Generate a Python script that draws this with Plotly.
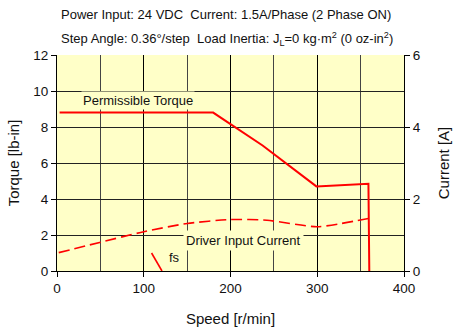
import plotly.graph_objects as go

# Data
torque_speed = [3, 180, 237, 299, 359, 360]
torque_vals = [8.8, 8.8, 6.97, 4.7, 4.85, 0]

current_speed = [2, 100, 150, 200, 242, 300, 359]
current_vals = [0.51, 1.09, 1.32, 1.43, 1.41, 1.23, 1.46]

fs_speed = [109, 121]
fs_vals = [1.0, 0]

x_ticks = [0, 100, 200, 300, 400]
y_ticks = [0, 2, 4, 6, 8, 10, 12]
y2_ticks = [0, 2, 4, 6]

FONT = "Liberation Sans, Arial, sans-serif"
BG = "#FFFFC8"
RED = "#FF0000"
TICKFONT = dict(size=13.5, color="#111")

fig = go.Figure()
fig.add_trace(go.Scatter(x=torque_speed, y=torque_vals, mode="lines",
                         line=dict(color=RED, width=2), showlegend=False))
fig.add_trace(go.Scatter(x=current_speed, y=current_vals, mode="lines", yaxis="y2",
                         line=dict(color=RED, width=1.6, dash="11px,5px", shape="spline", smoothing=0.6),
                         showlegend=False))
fig.add_trace(go.Scatter(x=fs_speed, y=fs_vals, mode="lines",
                         line=dict(color=RED, width=1.6), showlegend=False))

fig.update_layout(
    width=456, height=332,
    margin=dict(l=57, r=52, t=55, b=61, autoexpand=False),
    paper_bgcolor="white", plot_bgcolor=BG,
    font=dict(family=FONT, size=13, color="#111"),
    xaxis=dict(range=[0, 400], tickvals=x_ticks, showgrid=True, gridcolor="#000", gridwidth=1,
               minor=dict(dtick=50, showgrid=True, gridcolor="#444", gridwidth=1),
               ticks="outside", ticklen=5, tickcolor="#000", showline=True, linecolor="#000",
               zeroline=False, automargin=False, tickfont=TICKFONT,
               title=dict(text="Speed [r/min]", font=dict(size=15), standoff=18)),
    yaxis=dict(range=[0, 12], tickvals=y_ticks, showgrid=True, gridcolor="#222", gridwidth=1,
               ticks="outside", ticklen=5, tickcolor="#000", showline=True, linecolor="#000",
               zeroline=False, automargin=False, tickfont=TICKFONT,
               title=dict(text="Torque [lb-in]", font=dict(size=15), standoff=10)),
    yaxis2=dict(range=[0, 6], tickvals=y2_ticks, overlaying="y", side="right", showgrid=False,
                ticks="outside", ticklen=5, tickcolor="#000", showline=True, linecolor="#000",
                zeroline=False, automargin=False, tickfont=TICKFONT,
                title=dict(text="Current [A]", font=dict(size=15), standoff=18)),
    annotations=[
        dict(text="Power Input: 24 VDC  Current: 1.5A/Phase (2 Phase ON)",
             xref="paper", yref="paper", x=0.005, y=1.0, xanchor="left", yanchor="bottom",
             yshift=31, showarrow=False, font=dict(size=13)),
        dict(text="Step Angle: 0.36°/step  Load Inertia: J<sub>L</sub>=0 kg·m<sup>2</sup> (0 oz-in<sup>2</sup>)",
             xref="paper", yref="paper", x=0.005, y=1.0, xanchor="left", yanchor="bottom",
             yshift=5, showarrow=False, font=dict(size=13)),
        dict(text="Permissible Torque", x=93, y=9.45, xref="x", yref="y", showarrow=False,
             bgcolor=BG, font=dict(size=13), borderpad=1),
        dict(text="Driver Input Current", x=215, y=1.7, xref="x", yref="y", showarrow=False,
             bgcolor=BG, font=dict(size=13), borderpad=2),
        dict(text="fs", x=136, y=0.75, xref="x", yref="y", showarrow=False,
             font=dict(size=13)),
    ],
)

fig.write_html("out.html", config={"displayModeBar": False},
               post_script="document.body.style.margin='0';document.body.style.overflow='hidden';")
